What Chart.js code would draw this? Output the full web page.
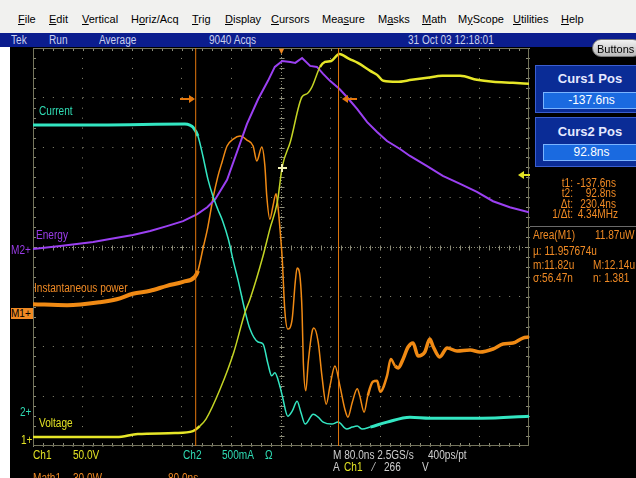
<!DOCTYPE html>
<html>
<head>
<meta charset="utf-8">
<script src="https://cdn.jsdelivr.net/npm/chart.js"></script>
<style>
body{margin:0;width:636px;height:478px;overflow:hidden;background:#fff;position:relative;
  font-family:"Liberation Sans",Arial,sans-serif}
.a{position:absolute;white-space:nowrap;line-height:1;font-size:12px}
.n{transform:scaleX(.84);transform-origin:0 0}
.nr{transform:scaleX(.84);transform-origin:100% 0}
#menu{position:absolute;left:0;top:0;width:636px;height:33px;background:#f1f1ef}
#menu .a{top:14px;font-size:11px;color:#000}
#status{position:absolute;left:0;top:33px;width:636px;height:14px;background:#0b1d8e}
#status .a{top:1px;color:#c9d0ee}
#screen{position:absolute;left:10px;top:47px;width:626px;height:431px;background:#000}
#scope{position:absolute;left:0;top:0;z-index:1}
.top{z-index:2}
.box{position:absolute;background:#0a2c96;border:1px solid #3b5ed0;z-index:2}
.field{position:absolute;background:#1a6ae0;border:1px solid #7ab4ff;z-index:2;color:#fff;font-size:12px;text-align:center;line-height:15px}
.ttl{position:absolute;color:#e6eaff;font-weight:bold;font-size:13px;width:104px;text-align:center;z-index:2;line-height:1}
.or{color:#f08a24}
.ye{color:#e2e224}
.cy{color:#2fdcb4}
.gr{color:#cfcfcf}
.bar{position:absolute;z-index:2;height:2px}
.hr{position:absolute;z-index:2;width:0;height:0;border-top:4px solid transparent;border-bottom:4px solid transparent}
</style>
</head>
<body>
<div id="menu">
  <span class="a" style="left:18px"><u>F</u>ile</span>
  <span class="a" style="left:49px"><u>E</u>dit</span>
  <span class="a" style="left:82px"><u>V</u>ertical</span>
  <span class="a" style="left:131px">H<u>o</u>riz/Acq</span>
  <span class="a" style="left:192px"><u>T</u>rig</span>
  <span class="a" style="left:225px"><u>D</u>isplay</span>
  <span class="a" style="left:271px"><u>C</u>ursors</span>
  <span class="a" style="left:322px">Mea<u>s</u>ure</span>
  <span class="a" style="left:378px">M<u>a</u>sks</span>
  <span class="a" style="left:422px"><u>M</u>ath</span>
  <span class="a" style="left:458px">M<u>y</u>Scope</span>
  <span class="a" style="left:513px"><u>U</u>tilities</span>
  <span class="a" style="left:561px"><u>H</u>elp</span>
</div>
<div id="status">
  <span class="a n" style="left:11px">Tek</span>
  <span class="a n" style="left:49px">Run</span>
  <span class="a n" style="left:99px">Average</span>
  <span class="a n" style="left:209px">9040 Acqs</span>
  <span class="a n" style="left:408px">31 Oct 03 12:18:01</span>
</div>
<div id="screen"></div>
<canvas id="scope" width="636" height="478"></canvas>

<!-- right panel -->
<div class="a top" style="left:592px;top:39px;width:50px;height:18px;border-radius:10px;border:1px solid #777;background:linear-gradient(#f2f2f2,#b9b9b9);color:#000;font-size:11px;line-height:18px;padding-left:4px;box-sizing:border-box">Buttons</div>
<div class="box" style="left:535px;top:65px;width:104px;height:46px"></div>
<div class="ttl" style="left:538px;top:72px">Curs1 Pos</div>
<div class="field" style="left:543px;top:92px;width:95px;height:15px">-137.6ns</div>
<div class="box" style="left:535px;top:117px;width:104px;height:48px"></div>
<div class="ttl" style="left:538px;top:125px">Curs2 Pos</div>
<div class="field" style="left:543px;top:144px;width:95px;height:15px">92.8ns</div>

<div class="a top or nr" style="left:540px;top:177px;width:33px;text-align:right">t1:</div>
<div class="a top or nr" style="left:566px;top:177px;width:50px;text-align:right">-137.6ns</div>
<div class="a top or nr" style="left:540px;top:187px;width:33px;text-align:right">t2:</div>
<div class="a top or nr" style="left:566px;top:187px;width:50px;text-align:right">92.8ns</div>
<div class="a top or nr" style="left:540px;top:198px;width:33px;text-align:right">Δt:</div>
<div class="a top or nr" style="left:566px;top:198px;width:50px;text-align:right">230.4ns</div>
<div class="a top or nr" style="left:540px;top:208px;width:33px;text-align:right">1/Δt:</div>
<div class="a top or nr" style="left:566px;top:208px;width:52px;text-align:right">4.34MHz</div>

<div class="a top" style="left:530px;top:226px;width:106px;height:1px;background:#6a6a6a"></div>
<div class="a top or n" style="left:533px;top:229px">Area(M1)</div>
<div class="a top or n" style="left:595px;top:229px">11.87uW</div>
<div class="a top or n" style="left:533px;top:245px">µ: 11.957674u</div>
<div class="a top or n" style="left:533px;top:259px">m:11.82u</div>
<div class="a top or n" style="left:593px;top:259px">M:12.14u</div>
<div class="a top or n" style="left:533px;top:272px">σ:56.47n</div>
<div class="a top or n" style="left:593px;top:272px">n: 1.381</div>

<!-- trace labels and markers -->
<div class="a top cy n" style="left:39px;top:105px">Current</div>
<div class="a top n" style="left:36px;top:229px;color:#9a3ce8">Energy</div>
<div class="a top or n" style="left:34px;top:282px">Instantaneous power</div>
<div class="a top ye n" style="left:39px;top:417px">Voltage</div>

<div class="a top n" style="left:11px;top:244px;color:#9a3ce8">M2+</div>
<div class="a top" style="left:11px;top:308px;width:22px;height:11px;background:#f08a24;color:#000;font-size:10px;line-height:11px">M1+</div>
<div class="a top cy n" style="left:20px;top:406px">2+</div>
<div class="a top ye n" style="left:21px;top:434px">1+</div>

<!-- cursor / trigger arrows -->
<div class="bar" style="left:180px;top:98px;width:10px;background:#e4780e"></div>
<div class="hr" style="left:189px;top:95px;border-left:6px solid #e4780e"></div>
<div class="hr" style="left:342px;top:95px;border-right:6px solid #e4780e"></div>
<div class="bar" style="left:347px;top:98px;width:10px;background:#e4780e"></div>
<div class="hr" style="left:518px;top:171px;border-right:6px solid #e2e224"></div>
<div class="bar" style="left:523px;top:174px;width:7px;background:#e2e224"></div>
<div class="bar" style="left:278px;top:167px;width:9px;background:#f2f2b4"></div>
<div class="bar" style="left:281px;top:164px;width:2px;height:8px;background:#f2f2b4"></div>
<div class="a top or" style="left:277px;top:47px;font-size:9px">▼</div>

<!-- bottom readouts -->
<div class="a top ye n" style="left:33px;top:449px">Ch1</div>
<div class="a top ye n" style="left:73px;top:449px">50.0V</div>
<div class="a top cy n" style="left:183px;top:449px">Ch2</div>
<div class="a top cy n" style="left:222px;top:449px">500mA</div>
<div class="a top cy n" style="left:265px;top:449px">Ω</div>
<div class="a top gr n" style="left:333px;top:449px">M 80.0ns 2.5GS/s</div>
<div class="a top gr n" style="left:428px;top:449px">400ps/pt</div>
<div class="a top gr n" style="left:333px;top:461px">A</div>
<div class="a top ye n" style="left:344px;top:461px">Ch1</div>
<div class="a top gr n" style="left:373px;top:461px">⁄</div>
<div class="a top gr n" style="left:384px;top:461px">266</div>
<div class="a top gr n" style="left:422px;top:461px">V</div>
<div class="a top or n" style="left:33px;top:472px">Math1</div>
<div class="a top or n" style="left:73px;top:472px">30.0W</div>
<div class="a top or n" style="left:168px;top:472px">80.0ns</div>

<script>
// time in ns (80 ns/div), level in screen divisions (8 div tall)
var cursorNs = [-137.6, 92.8];

var currentTrace = [[-400,2.45],[-292,2.45],[-155,2.47],[-147,2.45],[-142,2.41],[-134,2.23],[-126,1.83],
  [-118,1.37],[-110,1.03],[-102,0.76],[-94,0.52],[-85,0.16],[-77,-0.28],[-69,-0.68],[-58,-1.29],[-50,-1.65],
  [-37,-1.91],[-29,-1.95],[-21,-2.35],[-15,-2.59],[-10,-2.53],[-2,-2.79],[2,-2.99],[11,-3.40],[18,-3.30],
  [26,-3.10],[32,-3.32],[39,-3.56],[52,-3.36],[60,-3.42],[68,-3.52],[82,-3.56],[92,-3.52],[106,-3.66],
  [115,-3.62],[123,-3.60],[131,-3.66],[144,-3.62],[171,-3.52],[208,-3.42],[240,-3.44],[324,-3.44],[400,-3.40]];

var voltageTrace = [[-400,-3.82],[-265,-3.82],[-231,-3.76],[-171,-3.74],[-142,-3.70],[-131,-3.60],[-121,-3.46],
  [-98,-2.85],[-76,-2.11],[-58,-1.31],[-50,-1.05],[-29,-0.18],[-18,0.36],[-6,0.90],[2,1.61],[15,2.11],[34,3.02],
  [42,3.08],[50,3.22],[63,3.62],[71,3.72],[81,3.74],[94,3.88],[110,3.78],[124,3.70],[144,3.54],[155,3.46],
  [165,3.34],[187,3.32],[211,3.36],[236,3.40],[260,3.44],[289,3.44],[316,3.36],[342,3.32],[374,3.30],[400,3.28]];

var energyTrace = [[-400,-0.04],[-356,0.02],[-303,0.10],[-276,0.16],[-239,0.24],[-211,0.32],[-184,0.42],
  [-158,0.52],[-135,0.66],[-119,0.80],[-106,0.96],[-87,1.35],[-71,1.91],[-55,2.47],[-37,2.97],[-21,3.34],
  [-10,3.62],[2,3.74],[15,3.72],[23,3.70],[34,3.80],[47,3.64],[58,3.62],[68,3.48],[79,3.34],[94,3.18],
  [106,3.02],[123,2.77],[139,2.51],[155,2.31],[171,2.13],[192,1.97],[208,1.83],[235,1.63],[261,1.43],
  [289,1.27],[316,1.11],[342,0.92],[369,0.80],[400,0.70]];

var powerTrace = [[-400,-1.15],[-345,-1.17],[-292,-1.11],[-265,-1.05],[-239,-0.94],[-211,-0.88],[-184,-0.78],
  [-158,-0.70],[-139,-0.60],[-134,-0.48],[-126,-0.04],[-118,0.40],[-110,0.96],[-102,1.41],[-95,1.71],[-87,2.03],
  [-77,2.17],[-66,2.23],[-55,2.15],[-45,2.03],[-39,1.73],[-31,2.01],[-26,1.63],[-23,1.03],[-18,0.56],[-13,0.82],
  [-8,1.07],[-5,0.82],[-2,0.42],[2,-0.24],[6,-1.25],[11,-1.65],[18,-1.45],[23,-0.70],[26,-0.42],[31,-0.64],
  [34,-1.31],[36,-2.31],[40,-2.89],[44,-2.31],[50,-1.71],[53,-1.63],[60,-1.91],[66,-2.59],[73,-3.16],[79,-2.79],
  [87,-2.39],[95,-2.79],[103,-3.26],[108,-3.42],[115,-3.12],[123,-2.85],[127,-2.99],[134,-3.32],[140,-2.99],
  [148,-2.71],[155,-2.69],[160,-2.91],[171,-2.59],[177,-2.25],[184,-2.39],[189,-2.43],[197,-2.25],[205,-2.01],
  [213,-1.93],[221,-2.19],[232,-2.11],[240,-1.85],[245,-1.99],[256,-2.21],[268,-2.03],[284,-2.09],[305,-2.07],
  [321,-2.11],[342,-2.05],[358,-1.95],[374,-1.93],[390,-1.83],[400,-1.81]];

var gridColor = '#8c8c78';

// border box, edge ticks and the centre cross of the graticule
var graticule = {
  id: 'graticule',
  beforeDatasetsDraw: function(chart){
    var c = chart.ctx, a = chart.chartArea;
    var cx = Math.round(chart.scales.x.getPixelForValue(0)) + .5;
    var cy = Math.round(chart.scales.y.getPixelForValue(0)) + .5;
    var dx = (a.right - a.left) / 50, dy = (a.bottom - a.top) / 40;
    c.save();
    c.strokeStyle = gridColor;
    c.lineWidth = 1;
    c.setLineDash([1, 2]);
    c.beginPath();
    c.moveTo(a.left, cy); c.lineTo(a.right, cy);
    c.moveTo(cx, a.top); c.lineTo(cx, a.bottom);
    c.stroke();
    c.setLineDash([]);
    c.beginPath();
    for (var i = 1; i < 50; i++){
      var px = Math.round(a.left + i*dx) + .5;
      c.moveTo(px, a.top); c.lineTo(px, a.top + 3);
      c.moveTo(px, a.bottom); c.lineTo(px, a.bottom - 3);
      c.moveTo(px, cy - 2); c.lineTo(px, cy + 3);
    }
    for (var j = 1; j < 40; j++){
      var py = Math.round(a.top + j*dy) + .5;
      c.moveTo(a.left, py); c.lineTo(a.left + 3, py);
      c.moveTo(a.right, py); c.lineTo(a.right - 3, py);
      c.moveTo(cx - 2, py); c.lineTo(cx + 3, py);
    }
    c.stroke();
    c.strokeStyle = '#74745c';
    c.strokeRect(a.left + .5, a.top + .5, a.right - a.left - 1, a.bottom - a.top - 1);
    c.restore();
  }
};

function widthBy(ranges){
  return function(s){
    var x = s.p0.parsed.x;
    for (var i = 0; i < ranges.length; i++){
      if (x >= ranges[i][0] && x < ranges[i][1]) return ranges[i][2];
    }
    return 1.5;
  };
}

var datasets = [];
for (var k = 0; k < cursorNs.length; k++){
  datasets.push({
    label: 'Curs' + (k+1),
    data: [[cursorNs[k], -4], [cursorNs[k], 4]],
    borderColor: '#e4780e', borderWidth: 1
  });
}
datasets.push({
  label: 'Voltage', data: voltageTrace, borderColor: '#e6e628', borderWidth: 1.5,
  cubicInterpolationMode: 'monotone',
  segment: {
    borderWidth: widthBy([[-400,-140,2.5],[55,401,2.5]]),
    borderColor: function(s){ var x = s.p0.parsed.x; return (x > -140 && x < 55) ? '#c4d424' : '#e6e628'; }
  }
});
datasets.push({
  label: 'Current', data: currentTrace, borderColor: '#33e6c2', borderWidth: 1.6,
  cubicInterpolationMode: 'monotone',
  segment: { borderWidth: widthBy([[-400,-140,3],[140,401,3]]) }
});
datasets.push({
  label: 'Energy', data: energyTrace, borderColor: '#9b40f2', borderWidth: 2
});
datasets.push({
  label: 'Instantaneous power', data: powerTrace, borderColor: '#f08a14', borderWidth: 1.6,
  cubicInterpolationMode: 'monotone',
  segment: { borderWidth: widthBy([[-400,-136,4],[180,401,3.5],[140,180,2.5]]) }
});

var ctx = document.getElementById('scope');
var scopeChart = new Chart(ctx, {
  type: 'line',
  data: { datasets: datasets },
  options: {
    responsive: false,
    animation: false,
    events: [],
    elements: { point: { radius: 0 }, line: { tension: 0, fill: false } },
    layout: { padding: { left: 33, right: 107, top: 48, bottom: 32 } },
    plugins: { legend: { display: false }, tooltip: { enabled: false } },
    scales: {
      x: {
        type: 'linear', min: -400, max: 400,
        ticks: { display: false, stepSize: 80 },
        grid: { drawTicks: false, color: function(c){ return c.tick && c.tick.value === 0 ? 'rgba(0,0,0,0)' : gridColor; } },
        border: { display: false, dash: [1, 8.95] }
      },
      y: {
        type: 'linear', min: -4, max: 4,
        ticks: { display: false, stepSize: 1 },
        grid: { drawTicks: false, color: function(c){ return c.tick && c.tick.value === 0 ? 'rgba(0,0,0,0)' : gridColor; } },
        border: { display: false, dash: [1, 8.92] }
      }
    }
  },
  plugins: [graticule]
});
</script>
</body>
</html>
